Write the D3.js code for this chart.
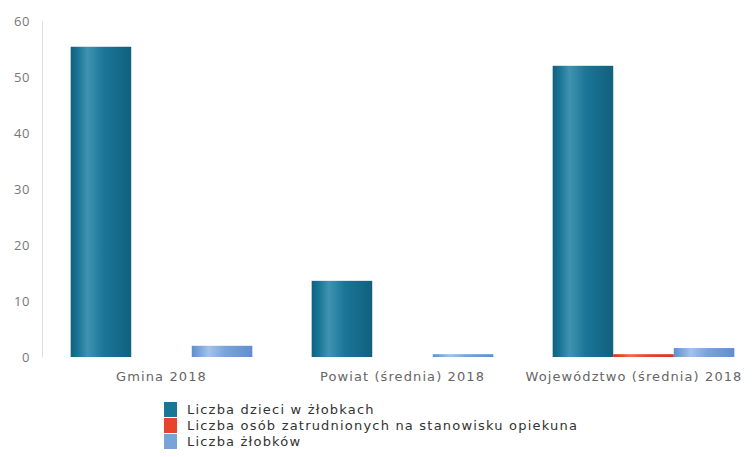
<!DOCTYPE html>
<html><head><meta charset="utf-8">
<script src="https://cdn.jsdelivr.net/npm/d3@7"></script>
<style>body{margin:0;background:#fff}svg{display:block;font-family:"Open Sans","DejaVu Sans",sans-serif}</style>
</head><body><svg id="c" width="754" height="457"></svg>
<script>
const categories = ["Gmina 2018", "Powiat (średnia) 2018", "Województwo (średnia) 2018"];
const seriesNames = ["Liczba dzieci w żłobkach", "Liczba osób zatrudnionych na stanowisku opiekuna", "Liczba żłobków"];
const dzieci = [55.4, 13.6, 52];
const opiekunowie = [0, 0, 0.5];
const zlobki = [2, 0.5, 1.6];
const yTicks = [0, 10, 20, 30, 40, 50, 60];
const colors = ["#1a7596", "#e8432c", "#7aa4d8"];

const svg = d3.select("#c");
const defs = svg.append("defs");
function grad(id, dark, mid, light) {
  const g = defs.append("linearGradient").attr("id", id).attr("x1", "0").attr("x2", "1").attr("y1", "0").attr("y2", "0");
  [[0, dark], [0.12, mid], [0.28, light], [0.55, mid], [1, dark]].forEach(([o, c]) => g.append("stop").attr("offset", o).attr("stop-color", c));
}
grad("g0", "#11607e", "#1a7596", "#3f93b1");
grad("g1", "#d8351f", "#e8432c", "#f06a52");
grad("g2", "#5f8fcc", "#7aa4d8", "#a3c2e8");

const y = d3.scaleLinear().domain([0, 60]).range([357, 21]);
const x0 = d3.scaleBand().domain(categories).range([41, 764]).padding(0);
const x1 = d3.scaleBand().domain([0, 1, 2]).range([0, x0.bandwidth()]).paddingInner(0).paddingOuter(0.49);

const data = categories.map((c, i) => ({c, v: [dzieci[i], opiekunowie[i], zlobki[i]]}));

// y axis
const yAxis = d3.axisLeft(y).tickValues(yTicks).tickSize(0).tickPadding(12);
const ya = svg.append("g").attr("transform", "translate(42,0)").call(yAxis);
ya.select(".domain").attr("stroke", "#ddd");
ya.selectAll("text").attr("fill", "#777").attr("font-size", 13).attr("font-family", "Open Sans").attr("letter-spacing", 0.6);

// bars
const g = svg.append("g").selectAll("g").data(data).join("g").attr("transform", d => `translate(${x0(d.c)},0)`);
g.selectAll("rect").data(d => d.v.map((v, k) => ({v, k}))).join("rect")
  .attr("x", d => x1(d.k)).attr("width", x1.bandwidth())
  .attr("y", d => y(d.v)).attr("height", d => y(0) - y(d.v))
  .attr("fill", d => `url(#g${d.k})`);

// x labels
svg.append("g").selectAll("text").data(categories).join("text")
  .attr("x", (d, i) => Math.min(x0(d) + x0.bandwidth() / 2, 634))
  .attr("y", 381).attr("text-anchor", "middle").attr("fill", "#666")
  .attr("font-size", 13).attr("font-family", "DejaVu Sans").attr("letter-spacing", 1.1)
  .text(d => d);

// legend
const lg = svg.append("g").selectAll("g").data(seriesNames).join("g")
  .attr("transform", (d, i) => `translate(164,${402 + i * 16})`);
lg.append("rect").attr("width", 13).attr("height", 15).attr("fill", (d, i) => colors[i]);
lg.append("text").attr("x", 23).attr("y", 12).attr("font-size", 13).attr("font-family", "DejaVu Sans")
  .attr("letter-spacing", 1.2).attr("fill", "#333").text(d => d);
</script></body></html>
